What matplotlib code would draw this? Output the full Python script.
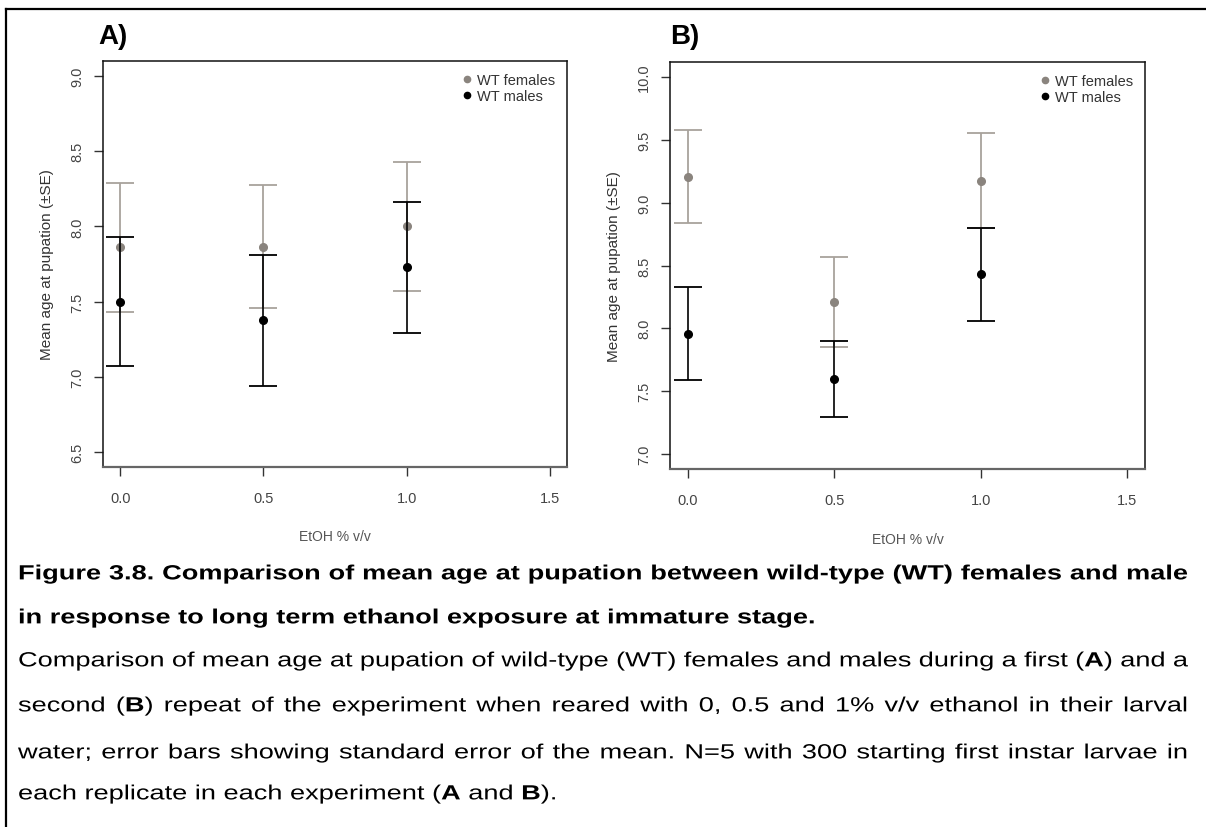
import matplotlib
matplotlib.use("Agg")
import matplotlib.pyplot as plt
from matplotlib.lines import Line2D
from matplotlib.patches import PathPatch
from matplotlib.textpath import TextPath, text_to_path
from matplotlib.font_manager import FontProperties
from matplotlib.transforms import Affine2D

plt.rcParams["font.family"] = ["Liberation Sans", "DejaVu Sans"]

# ---------------- data ----------------
dose = [0.0, 0.5, 1.0]

a_fem_mean = [7.86, 7.865, 8.0]
a_fem_se = [0.43, 0.41, 0.427]
a_male_mean = [7.5, 7.375, 7.727]
a_male_se = [0.427, 0.437, 0.434]

b_fem_mean = [9.206, 8.206, 9.175]
b_fem_se = [0.369, 0.358, 0.378]
b_male_mean = [7.957, 7.597, 8.431]
b_male_se = [0.372, 0.30, 0.37]

x_ticks = [0.0, 0.5, 1.0, 1.5]
a_yticks = [6.5, 7.0, 7.5, 8.0, 8.5, 9.0]
b_yticks = [7.0, 7.5, 8.0, 8.5, 9.0, 9.5, 10.0]
legend_labels = ["WT females", "WT males"]

caption_bold = [
    "Figure 3.8. Comparison of mean age at pupation between wild-type (WT) females and male",
    "in response to long term ethanol exposure at immature stage.",
]
caption_body = [
    "Comparison of mean age at pupation of wild-type (WT) females and males during a first (*A*) and a",
    "second (*B*) repeat of the experiment when reared with 0, 0.5 and 1% v/v ethanol in their larval",
    "water; error bars showing standard error of the mean. N=5 with 300 starting first instar larvae in",
    "each replicate in each experiment (*A* and *B*).",
]

FEM_PT = "#8a847e"
FEM_BAR = "#a8a29c"
MALE = "#000000"

W, H = 1206, 828
fig = plt.figure(figsize=(W / 100, H / 100), dpi=100)


def px_axes(l, t, r, b):
    return fig.add_axes([l / W, 1 - b / H, (r - l) / W, (b - t) / H])


def panel(ax, fm, fse, mm, mse, ylim, yticks):
    ax.errorbar(dose, fm, yerr=fse, fmt="none", ecolor=FEM_BAR, elinewidth=1.3,
                capsize=10, capthick=1.3, zorder=2)
    ax.plot(dose, fm, "o", color=FEM_PT, ms=5.5, zorder=3)
    ax.errorbar(dose, mm, yerr=mse, fmt="none", ecolor=MALE, elinewidth=1.2,
                capsize=10, capthick=1.3, zorder=4)
    ax.plot(dose, mm, "o", color=MALE, ms=5.5, zorder=5)
    ax.set_xlim(-0.06, 1.56)
    ax.set_ylim(*ylim)
    ax.set_xticks(x_ticks)
    ax.set_xticklabels([f"{v:.1f}" for v in x_ticks])
    ax.set_yticks(yticks)
    ax.set_yticklabels([f"{v:.1f}" for v in yticks], rotation=90, va="center")
    ax.tick_params(direction="out", length=6.5, width=1.0, color="#333333",
                   labelsize=10.5, labelcolor="#444444")
    ax.tick_params(axis="x", pad=11)
    ax.tick_params(axis="y", pad=7)
    for s in ax.spines.values():
        s.set_linewidth(1.1)
        s.set_color("#111111")
    ax.spines["bottom"].set_color("#666666")
    ax.spines["bottom"].set_linewidth(1.6)
    ax.set_ylabel("Mean age at pupation (\u00b1SE)", fontsize=11, color="#333333", labelpad=12)
    handles = [Line2D([], [], ls="none", marker="o", ms=4.5, color=FEM_PT),
               Line2D([], [], ls="none", marker="o", ms=4.5, color=MALE)]
    ax.legend(handles, legend_labels, loc="upper right", frameon=False, fontsize=10.5,
              handletextpad=0.2, labelspacing=0.15, borderaxespad=0.4,
              labelcolor="#333333", handlelength=1.0)


ax_a = px_axes(103, 62, 567, 468)
panel(ax_a, a_fem_mean, a_fem_se, a_male_mean, a_male_se, (6.4, 9.1), a_yticks)
ax_b = px_axes(670, 63, 1145, 470)
panel(ax_b, b_fem_mean, b_fem_se, b_male_mean, b_male_se, (6.88, 10.12), b_yticks)

fig.text(335 / W, 1 - 537 / H, "EtOH % v/v", fontsize=10, color="#555555", ha="center", va="center")
fig.text(908 / W, 1 - 540 / H, "EtOH % v/v", fontsize=10, color="#555555", ha="center", va="center")

fig.text(98 / W, 1 - 44 / H, "A)", fontsize=20, fontweight="bold", ha="left", va="baseline")
fig.text(670 / W, 1 - 44 / H, "B)", fontsize=20, fontweight="bold", ha="left", va="baseline")

# frame lines (top and left only)
fig.add_artist(Line2D([6 / W, 1], [1 - 10 / H, 1 - 10 / H], color="black", lw=1.6))
fig.add_artist(Line2D([6 / W, 6 / W], [1 - 10 / H, 0], color="black", lw=1.6))

# ---------------- justified, horizontally stretched caption ----------------
X0, X1 = 18, 1188
SIZE = 20.5  # em in pixels
PROP = {False: FontProperties(family="Liberation Sans", weight="normal"),
        True: FontProperties(family="Liberation Sans", weight="bold")}


def adv(s, bold):
    w, _, _ = text_to_path.get_text_width_height_descent(s, PROP[bold], ismath=False)
    return w * SIZE / PROP[bold].get_size_in_points()


def parse(line, all_bold):
    words = []
    for word in line.split(" "):
        runs = []
        for k, part in enumerate(word.split("*")):
            if part:
                runs.append((part, all_bold or (k % 2 == 1)))
        words.append(runs)
    return words


def natural(words, sx):
    return sx * (sum(adv(s, b) for runs in words for s, b in runs) + adv(" ", False) * (len(words) - 1))


# stretch so the first (bold) line fills the text block
first = parse(caption_bold[0], True)
SX = (X1 - X0 - 4) / natural(first, 1.0)


def draw_line(line, y, all_bold, justify):
    words = parse(line, all_bold)
    widths = [SX * sum(adv(s, b) for s, b in runs) for runs in words]
    space = SX * adv(" ", False)
    if justify and len(words) > 1:
        gap = max((X1 - X0 - sum(widths)) / (len(words) - 1), 0.4 * space)
    else:
        gap = space
    base = H - y - 0.36 * SIZE  # baseline in display pixels (y up)
    x = X0
    for runs, w in zip(words, widths):
        xr = x
        for s, b in runs:
            tp = TextPath((0, 0), s, size=SIZE, prop=PROP[b])
            tr = Affine2D().scale(SX, 1.0).translate(xr, base)
            fig.add_artist(PathPatch(tr.transform_path(tp), facecolor="black",
                                     edgecolor="none", transform=None))
            xr += SX * adv(s, b)
        x += w + gap


ys = [573, 617, 660, 705, 752, 793]
draw_line(caption_bold[0], ys[0], True, True)
draw_line(caption_bold[1], ys[1], True, False)
for i, line in enumerate(caption_body):
    draw_line(line, ys[2 + i], False, i < len(caption_body) - 1)

fig.savefig("out.png", dpi=100)
